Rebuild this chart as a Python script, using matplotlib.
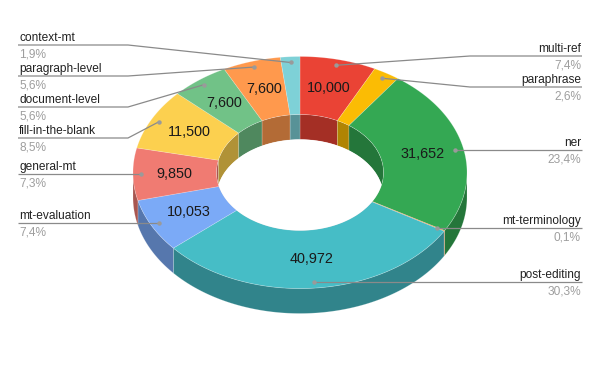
import numpy as np
import matplotlib
matplotlib.use("Agg")
import matplotlib.pyplot as plt
from matplotlib.patches import Polygon, Ellipse
from matplotlib.colors import to_rgb

# ---------------- data ----------------
categories = ["multi-ref", "paraphrase", "ner", "mt-terminology", "post-editing",
              "mt-evaluation", "general-mt", "fill-in-the-blank", "document-level",
              "paragraph-level", "context-mt"]
values = [10000, 3500, 31652, 130, 40972, 10053, 9850, 11500, 7600, 7600, 2550]
colors = ["#EA4335", "#FBBC04", "#34A853", "#FF6D01", "#46BDC6", "#7BAAF7",
          "#F07B72", "#FCD04F", "#71C287", "#FF994D", "#7ED1D7"]
# label line heights (pixels) for labels that need an elbow; None = straight line
label_y = [56, 87, None, None, None, None, None, 138, 107, 76, 45]

# ---------------- layout ----------------
W, H = 600, 371
cx, cy = 300.0, 172.5
rx, ry = 167.0, 116.0
depth = 25.0
hole = 0.5
dot_r = 0.95
label_r = 0.75
shade = 0.7
FONT = "Liberation Sans"

fig = plt.figure(figsize=(W / 100, H / 100), dpi=100)
ax = fig.add_axes([0, 0, 1, 1])
ax.set_xlim(0, W)
ax.set_ylim(H, 0)
ax.axis("off")

vals = np.array(values, dtype=float)
total = vals.sum()
fracs = vals / total
cum = np.concatenate([[0], np.cumsum(fracs)])
th_start = 90 - 360 * cum[:-1]
th_end = 90 - 360 * cum[1:]


def pts(t0, t1, r, dy=0.0, n=None):
    if n is None:
        n = max(3, int(abs(t1 - t0) * 2) + 2)
    t = np.radians(np.linspace(t0, t1, n))
    return np.column_stack([cx + r * rx * np.cos(t), cy - r * ry * np.sin(t) + dy])


def dark(c):
    return tuple(np.array(to_rgb(c)) * shade)


edge = (1, 1, 1, 0.25)

# outer front walls
for i in range(len(vals)):
    a = min(th_start[i], 0.0)
    b = max(th_end[i], -180.0)
    if a > b:
        top = pts(a, b, 1.0)
        bot = pts(b, a, 1.0, depth)
        ax.add_patch(Polygon(np.vstack([top, bot]), closed=True,
                             facecolor=dark(colors[i]), edgecolor=edge, lw=0.5, zorder=1))

# top surfaces
for i in range(len(vals)):
    outer = pts(th_start[i], th_end[i], 1.0)
    inner = pts(th_end[i], th_start[i], hole)
    ax.add_patch(Polygon(np.vstack([outer, inner]), closed=True,
                         facecolor=colors[i], edgecolor=edge, lw=0.5, zorder=2))

# inner walls (visible in back part of hole)
clip = Ellipse((cx, cy), 2 * rx * hole, 2 * ry * hole, transform=ax.transData,
               facecolor="none", edgecolor="none")
ax.add_patch(clip)
for i in range(len(vals)):
    top = pts(th_start[i], th_end[i], hole)
    bot = pts(th_end[i], th_start[i], hole, depth)
    p = Polygon(np.vstack([top, bot]), closed=True, facecolor=dark(colors[i]),
                edgecolor=edge, lw=0.5, zorder=3)
    ax.add_patch(p)
    p.set_clip_path(clip)
wh = Ellipse((cx, cy + depth), 2 * rx * hole, 2 * ry * hole, facecolor="white",
             edgecolor="none", zorder=4)
ax.add_patch(wh)
wh.set_clip_path(clip)

# value labels
for i in range(len(vals)):
    if fracs[i] < 0.04:
        continue
    tm = np.radians((th_start[i] + th_end[i]) / 2)
    x = cx + label_r * rx * np.cos(tm)
    y = cy - label_r * ry * np.sin(tm)
    ax.text(x, y, f"{values[i]:,}", ha="center", va="center", fontsize=10.4,
            family=FONT, color="#1a1a1a", zorder=6)

# leader lines and outside labels
line_col = "#8a8a8a"
left_x, right_x = 18, 582
elbow_left, elbow_right = 128, 470
for i in range(len(vals)):
    tm = np.radians((th_start[i] + th_end[i]) / 2)
    dx = cx + dot_r * rx * np.cos(tm)
    dy = cy - dot_r * ry * np.sin(tm)
    right = np.cos(tm) > 0
    ly = label_y[i] if label_y[i] is not None else dy
    if label_y[i] is not None:
        ex = elbow_right if right else elbow_left
        xs = [dx, ex, right_x if right else left_x]
        ys = [dy, ly, ly]
    else:
        xs = [dx, right_x if right else left_x]
        ys = [dy, dy]
    ax.plot(xs, ys, color=line_col, lw=0.9, zorder=5, solid_capstyle="butt")
    ax.plot([dx], [dy], "o", ms=3.2, color="#9a9a9a", mec="none", zorder=7)
    tx = right_x - 1 if right else left_x + 1
    ha = "right" if right else "left"
    pct = f"{fracs[i] * 100:.1f}".replace(".", ",") + "%"
    ax.text(tx, ly - 4, categories[i], ha=ha, va="baseline", fontsize=8.6,
            family=FONT, color="#222222", zorder=6)
    ax.text(tx, ly + 12.5, pct, ha=ha, va="baseline", fontsize=8.6,
            family=FONT, color="#9e9e9e", zorder=6)

fig.savefig("out.png", dpi=100, facecolor="white")
